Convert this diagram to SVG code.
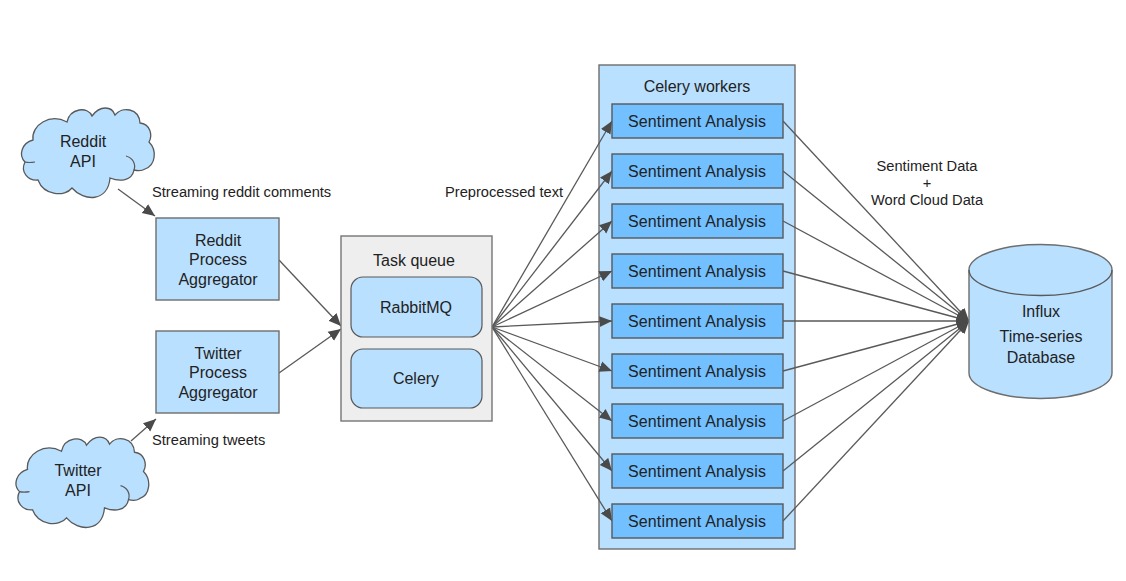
<svg xmlns="http://www.w3.org/2000/svg" xmlns:xlink="http://www.w3.org/1999/xlink" width="1126" height="581" viewBox="0 0 1126 581">
<style>
text{font-family:"Liberation Sans",Arial,sans-serif;font-size:16px;fill:#222;text-anchor:middle}
.lb{font-size:14.67px}
.st{font-size:14.67px;text-anchor:start}
.sa{letter-spacing:.17px}
.b{fill:#b9e0ff;stroke:#6e6e6e;stroke-width:1.4}
.d{fill:#72c0ff;stroke:#595959;stroke-width:1.4}
.g{fill:#eeeeee;stroke:#757575;stroke-width:1.4}
.r{fill:#b9e0ff;stroke:#595959;stroke-width:1.2}
.c{fill:none;stroke:#595959;stroke-width:1.3}
.t{fill:none;stroke:#595959;stroke-width:1.2}
#conn line{stroke:#595959;stroke-width:1.3;marker-end:url(#ah)}
</style>
<defs>
<marker id="ah" markerUnits="userSpaceOnUse" markerWidth="13" markerHeight="13" viewBox="0 0 13 13" refX="12.5" refY="6.5" orient="auto"><path d="M0,1 L12.5,6.5 L0,12 Z" fill="#4a4a4a"/></marker>
<path id="cl" d="M33,140 C31,125 50,113 67,122 C70,108 88,106 92,116 C100,105 112,106 115,115 C122,106 139,108 140,123 C150,124 153,135 149,142 C157,150 156,165 145,169 C142,171 138,171 134,170 C132,181 120,182 110,178 C108,202 84,202 72,188 C65,197 44,196 38,180 C28,181 20,172 25,162 C18,155 22,143 33,140 Z"/>
</defs>
<rect width="1126" height="581" fill="#fff"/>
<g id="celery-workers">
<rect class="b" x="599" y="65" width="196" height="484"/>
<text x="697" y="92">Celery workers</text>
</g>
<g id="conn">
<line x1="118" y1="189" x2="155" y2="216"/>
<line x1="131" y1="441" x2="156" y2="419"/>
<line x1="279" y1="260" x2="341" y2="326"/>
<line x1="279" y1="373" x2="341" y2="329"/>
<line x1="492" y1="327" x2="612" y2="121"/>
<line x1="492" y1="327" x2="612" y2="171"/>
<line x1="492" y1="327" x2="612" y2="221"/>
<line x1="492" y1="327" x2="612" y2="271"/>
<line x1="492" y1="327" x2="612" y2="321"/>
<line x1="492" y1="327" x2="612" y2="371"/>
<line x1="492" y1="327" x2="612" y2="421"/>
<line x1="492" y1="327" x2="612" y2="471"/>
<line x1="492" y1="327" x2="612" y2="521"/>
<line x1="783" y1="121" x2="969" y2="321"/>
<line x1="783" y1="171" x2="969" y2="321"/>
<line x1="783" y1="221" x2="969" y2="321"/>
<line x1="783" y1="271" x2="969" y2="321"/>
<line x1="783" y1="321" x2="969" y2="321"/>
<line x1="783" y1="371" x2="969" y2="321"/>
<line x1="783" y1="421" x2="969" y2="321"/>
<line x1="783" y1="471" x2="969" y2="321"/>
<line x1="783" y1="521" x2="969" y2="321"/>
</g>
<g id="reddit-api">
<use xlink:href="#cl" href="#cl" fill="#b9e0ff" stroke="#595959" stroke-width="1.3"/>
<path class="t" d="M126,156 C133,158 136,164 134,170 M25,162 Q29,163 35,162"/>
<text x="83" y="147">Reddit</text>
<text x="83" y="167">API</text>
</g>
<g id="twitter-api">
<g transform="translate(-5.5,328) scale(1,1.01)">
<use xlink:href="#cl" href="#cl" fill="#b9e0ff" stroke="#595959" stroke-width="1.3"/>
<path class="t" d="M126,156 C133,158 136,164 134,170 M25,162 Q29,163 35,162"/>
</g>
<text x="78" y="476">Twitter</text>
<text x="78" y="496">API</text>
</g>
<g id="reddit-agg">
<rect class="b" x="156" y="218" width="123" height="82"/>
<text x="218" y="246">Reddit</text><text x="218" y="265">Process</text><text x="218" y="285">Aggregator</text>
</g>
<g id="twitter-agg">
<rect class="b" x="156" y="331" width="123" height="82"/>
<text x="218" y="359">Twitter</text><text x="218" y="378">Process</text><text x="218" y="398">Aggregator</text>
</g>
<g id="task-queue">
<rect class="g" x="341" y="236" width="151" height="185"/>
<text x="414" y="266">Task queue</text>
</g>
<g id="rabbitmq"><rect class="r" x="351" y="277" width="131" height="60" rx="12"/><text x="416" y="313">RabbitMQ</text></g>
<g id="celery"><rect class="r" x="351" y="349" width="131" height="59" rx="12"/><text x="416" y="384">Celery</text></g>
<g id="sa1"><rect class="d" x="612" y="104" width="171" height="34"/><text class="sa" x="697" y="127">Sentiment Analysis</text></g>
<g id="sa2"><rect class="d" x="612" y="154" width="171" height="34"/><text class="sa" x="697" y="177">Sentiment Analysis</text></g>
<g id="sa3"><rect class="d" x="612" y="204" width="171" height="34"/><text class="sa" x="697" y="227">Sentiment Analysis</text></g>
<g id="sa4"><rect class="d" x="612" y="254" width="171" height="34"/><text class="sa" x="697" y="277">Sentiment Analysis</text></g>
<g id="sa5"><rect class="d" x="612" y="304" width="171" height="34"/><text class="sa" x="697" y="327">Sentiment Analysis</text></g>
<g id="sa6"><rect class="d" x="612" y="354" width="171" height="34"/><text class="sa" x="697" y="377">Sentiment Analysis</text></g>
<g id="sa7"><rect class="d" x="612" y="404" width="171" height="34"/><text class="sa" x="697" y="427">Sentiment Analysis</text></g>
<g id="sa8"><rect class="d" x="612" y="454" width="171" height="34"/><text class="sa" x="697" y="477">Sentiment Analysis</text></g>
<g id="sa9"><rect class="d" x="612" y="504" width="171" height="34"/><text class="sa" x="697" y="527">Sentiment Analysis</text></g>
<g id="influx">
<path class="b" d="M969,270 A71.5,25.5 0 0 1 1112,270 L1112,373 A71.5,25.5 0 0 1 969,373 Z"/>
<path class="c" d="M969,270 A71.5,25.5 0 0 0 1112,270"/>
<text x="1041" y="317">Influx</text>
<text x="1041" y="342">Time-series</text>
<text x="1041" y="363">Database</text>
</g>
<g id="labels">
<text class="st" x="152" y="197">Streaming reddit comments</text>
<text class="st" x="152" y="445">Streaming tweets</text>
<text class="st" x="445" y="197">Preprocessed text</text>
<text class="lb" x="927" y="171">Sentiment Data</text>
<text class="lb" x="927" y="188">+</text>
<text class="lb" x="927" y="205">Word Cloud Data</text>
</g>
</svg>
